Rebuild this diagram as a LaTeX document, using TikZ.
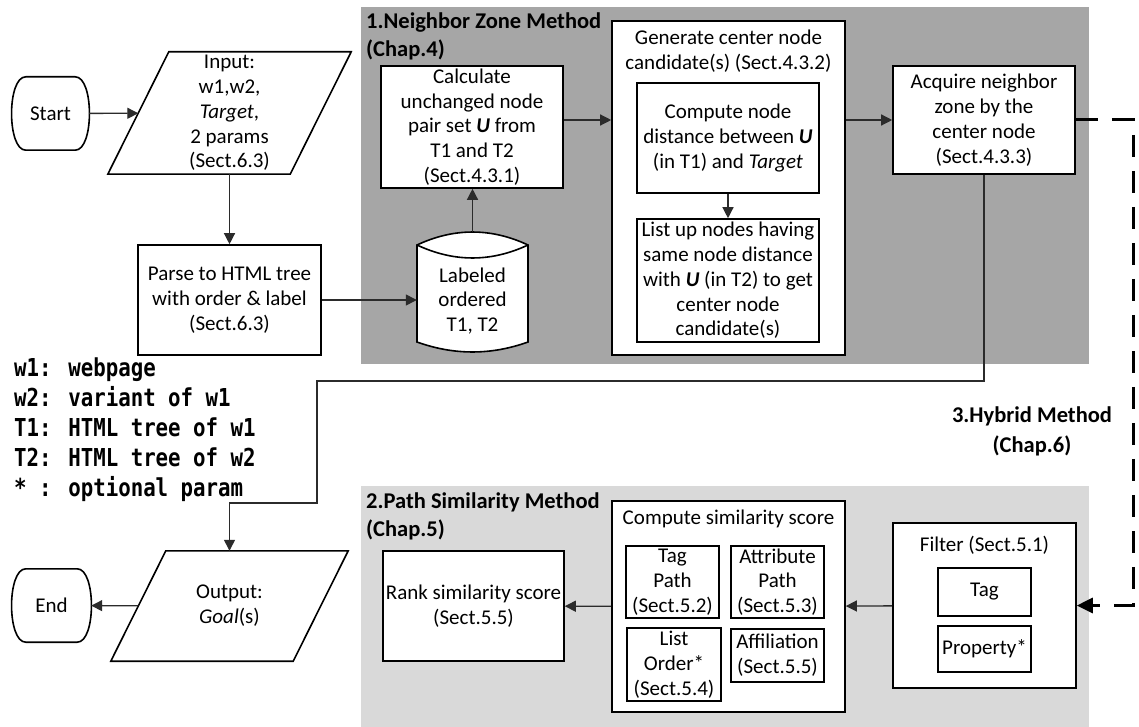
\documentclass[tikz,border=0pt]{standalone}
\usepackage{fontspec}
\setmainfont{Carlito}
\newfontfamily\legendfont[FakeStretch=0.84]{DejaVu Sans Mono}
\usetikzlibrary{arrows.meta,calc}
\definecolor{zoneA}{HTML}{A6A6A6}
\definecolor{zoneB}{HTML}{D9D9D9}
\definecolor{wire}{HTML}{2B2B2B}

\begin{document}
\begin{tikzpicture}[x=1pt,y=-1pt,
  every node/.style={font=\fontsize{21}{24.8}\selectfont, inner sep=0pt, align=center},
  outline/.style={draw=black, line width=1.6pt},
  box/.style n args={2}{outline, fill=white, minimum width=#1, minimum height=#2},
  textonly/.style n args={2}{minimum width=#1, minimum height=#2},
  title/.style={font=\fontsize{22.5}{28}\selectfont\bfseries},
  flow/.style={draw=wire, line width=1.3pt, -{Triangle[length=11pt,width=11pt]}},
  hybrid/.style={draw=black, line width=3pt, dash pattern=on 22pt off 14pt,
    -{Triangle[length=16pt,width=15pt]}}]
\useasboundingbox (0,0) rectangle (1139,727);

% method zones
\fill[zoneA] (361,7) rectangle (1089,364);
\fill[zoneB] (361,486) rectangle (1089,727);

% labeled ordered trees (cylinder)
\filldraw[outline, fill=white] (417,245) .. controls (454,227.7) and (491,227.7) .. (528,245)
  -- (528,342) .. controls (491,355.3) and (454,355.3) .. (417,342) -- cycle;
\draw[outline] (417,245) .. controls (454,262.3) and (491,262.3) .. (528,245);
\node[textonly={111pt}{102pt}] (cyl) at (472.5,301) {Labeled\\ordered\\T1, T2};

% terminators
\node[textonly={77pt}{73pt}] (start) at (50.5,113.5) {Start};
\draw[outline] ($(start.north west)+(14,0)$) -- ($(start.north east)+(-14,0)$)
  .. controls +(19,0) and +(19,0) .. ($(start.south east)+(-14,0)$)
  -- ($(start.south west)+(14,0)$)
  .. controls +(-19,0) and +(-19,0) .. ($(start.north west)+(14,0)$) -- cycle;
\node[textonly={79pt}{73pt}] (end) at (51.5,605.5) {End};
\draw[outline] ($(end.north west)+(14,0)$) -- ($(end.north east)+(-14,0)$)
  .. controls +(19,0) and +(19,0) .. ($(end.south east)+(-14,0)$)
  -- ($(end.south west)+(14,0)$)
  .. controls +(-19,0) and +(-19,0) .. ($(end.north west)+(14,0)$) -- cycle;

% input / output parallelograms
\node[textonly={182pt}{122pt}] (in) at (229.5,113)
  {Input:\\w1,w2,\\\textit{Target},\\2 params\\(Sect.6.3)};
\draw[outline] ($(in.north west)+(30.5,0)$) -- ($(in.north east)+(30.5,0)$)
  -- ($(in.south east)+(-30.5,0)$) -- ($(in.south west)+(-30.5,0)$) -- cycle;
\node[textonly={182pt}{110pt}] (out) at (229.5,606) {Output:\\\textit{Goal}(s)};
\draw[outline] ($(out.north west)+(27.5,0)$) -- ($(out.north east)+(27.5,0)$)
  -- ($(out.south east)+(-27.5,0)$) -- ($(out.south west)+(-27.5,0)$) -- cycle;

% preprocessing
\node[box={183pt}{110pt}] (parse) at (229.5,300)
  {Parse to HTML tree\\with order \& label\\(Sect.6.3)};

% 1. neighbor zone method
\node[title, anchor=north west, align=left] (zone1) at (366,12.5)
  {1.Neighbor Zone Method\\(Chap.4)};
\node[box={182pt}{122pt}] (calc) at (472,127)
  {Calculate\\unchanged node\\pair set \textbf{\textit{U}} from\\T1 and T2\\(Sect.4.3.1)};
\node[box={233pt}{334pt}] (gen) at (728.5,188) {};
\node[anchor=north] (gentitle) at (728.5,30) {Generate center node\\candidate(s) (Sect.4.3.2)};
\node[box={182pt}{110pt}] (comp) at (728,138)
  {Compute node\\distance between \textbf{\textit{U}}\\(in T1) and \textit{Target}};
\node[box={182pt}{123pt}] (list) at (728,280.5)
  {List up nodes having\\same node distance\\with \textbf{\textit{U}} (in T2) to get\\center node\\candidate(s)};
\node[box={182pt}{108pt}] (acq) at (984,120)
  {Acquire neighbor\\zone by the\\center node\\(Sect.4.3.3)};

% 2. path similarity method
\node[title, anchor=north west, align=left] (zone2) at (366,492.5)
  {2.Path Similarity Method\\(Chap.5)};
\node[box={181pt}{110pt}] (rank) at (473.5,606) {Rank similarity score\\(Sect.5.5)};
\node[box={233pt}{211pt}] (sim) at (728.5,606.5) {};
\node[anchor=north] (simtitle) at (728.5,510) {Compute similarity score};
\node[box={93pt}{72pt}] (tagpath) at (672.5,582) {Tag\\Path\\(Sect.5.2)};
\node[box={93pt}{72pt}] (attrpath) at (777.5,582) {Attribute\\Path\\(Sect.5.3)};
\node[box={94pt}{73pt}] (listorder) at (674,664.5) {List\\Order*\\(Sect.5.4)};
\node[box={93pt}{53pt}] (affil) at (777.5,655.5) {Affiliation\\(Sect.5.5)};
\node[box={183pt}{165pt}] (filter) at (984.5,605.5) {};
\node[anchor=north] (filtertitle) at (984.5,536) {Filter (Sect.5.1)};
\node[box={93pt}{48pt}] (tag) at (984.5,592) {Tag};
\node[box={93pt}{46pt}] (prop) at (984.5,649) {Property*};

% 3. hybrid method
\node[anchor=north, font=\fontsize{22.5}{30}\selectfont\bfseries] (zone3) at (1032,406.5)
  {3.Hybrid Method\\(Chap.6)};

% legend
\node[anchor=north west, align=left, font=\fontsize{24.7}{30}\selectfont\legendfont\bfseries] (legend) at (14,358)
  {w1: webpage\\w2: variant of w1\\T1: HTML tree of w1\\T2: HTML tree of w2\\* : optional param};

% connectors
\draw[flow] (start) -- (in);
\draw[flow] (in.south) -- (parse.north);
\draw[flow] (parse.east) -- (parse.east -| cyl.west);
\draw[flow] ($(cyl.north)+(0,-18)$) -- (cyl.north |- calc.south);
\draw[flow] (calc.east |- acq) -- (gen.west |- acq);
\draw[flow] (comp) -- (list);
\draw[flow] (gen.east |- acq) -- (acq.west);
\draw[flow] (acq.south) |- (317,381) -- (317,503) -| (out.north);
\draw[flow] (out) -- (end);
\draw[flow] (sim) -- (rank);
\draw[flow] (filter) -- (sim);
\draw[hybrid] (acq.east) -- (1133,120) -- (1133,605.5) -- (filter.east);

\end{tikzpicture}
\end{document}
